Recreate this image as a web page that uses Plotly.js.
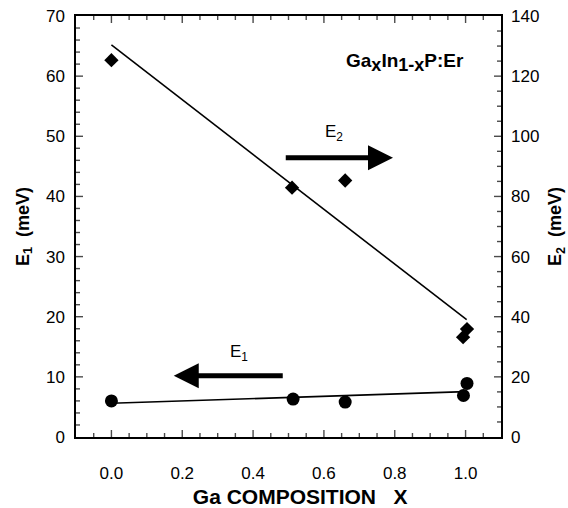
<!DOCTYPE html>
<html><head><meta charset="utf-8">
<script src="https://cdn.plot.ly/plotly-3.0.1.min.js"></script>
<style>html,body{margin:0;padding:0;background:#fff}#chart{width:568px;height:508px}</style>
</head><body><div id="chart"></div>
<script>
// E1 data (left axis, meV)
const e1X = [0.0, 0.513, 0.66, 0.994, 1.004];
const e1Y = [6.0, 6.3, 5.8, 6.9, 8.9];
const e1FitX = [0.0, 1.0];
const e1FitY = [5.6, 7.55];
// E2 data (right axis, meV)
const e2X = [0.0, 0.51, 0.66, 0.993, 1.004];
const e2Y = [125.3, 82.9, 85.3, 33.2, 35.9];
const e2FitX = [0.0, 1.003];
const e2FitY = [130.4, 39.0];
// ticks
const xTicks = [0.0, 0.2, 0.4, 0.6, 0.8, 1.0];
const xTickText = ['0.0', '0.2', '0.4', '0.6', '0.8', '1.0'];
const y1Ticks = [0, 10, 20, 30, 40, 50, 60, 70];
const y2Ticks = [0, 20, 40, 60, 80, 100, 120, 140];

const FONT = 'Liberation Sans, Arial, Helvetica, sans-serif';
const X_RANGE = [-0.1, 1.1], Y1_RANGE = [0, 70], Y2_RANGE = [0, 140];
const W = 568, H = 508, M = {l: 76, r: 67, t: 16, b: 71};
const plotW = W - M.l - M.r, plotH = H - M.t - M.b;

const traces = [
  {x: e1FitX, y: e1FitY, mode: 'lines', line: {color: '#000', width: 1.6}, yaxis: 'y', hoverinfo: 'skip'},
  {x: e1X, y: e1Y, mode: 'markers', marker: {symbol: 'circle', size: 13, color: '#000'}, yaxis: 'y'},
  {x: e2FitX, y: e2FitY, mode: 'lines', line: {color: '#000', width: 1.6}, yaxis: 'y2', hoverinfo: 'skip'},
  {x: e2X, y: e2Y, mode: 'markers', marker: {symbol: 'diamond', size: 11, color: '#000'}, yaxis: 'y2'}
];

// inward tick marks (major + minor) drawn as line-symbol markers on the axes' own scales
const MAJ = 7, MIN = 4;
const xPerPx = (X_RANGE[1] - X_RANGE[0]) / plotW;
const y1PerPx = (Y1_RANGE[1] - Y1_RANGE[0]) / plotH;
const y2PerPx = (Y2_RANGE[1] - Y2_RANGE[0]) / plotH;
function steps(lo, hi, st) { const a = []; const n = Math.round((hi - lo) / st); for (let i = 1; i < n; i++) a.push(+(lo + i * st).toFixed(6)); return a; }
function isMajor(v, arr) { return arr.some(t => Math.abs(t - v) < 1e-6); }
function tickTrace(xs, ys, lens, sym, ax) {
  traces.push({x: xs, y: ys, yaxis: ax, mode: 'markers', cliponaxis: false, hoverinfo: 'skip', showlegend: false,
    marker: {symbol: sym, size: lens.map(l => l / 1.4), color: '#000', line: {color: '#000', width: 1.4}}});
}
const xv = steps(X_RANGE[0], X_RANGE[1], 0.05);
const xl = xv.map(v => isMajor(v, xTicks) ? MAJ : MIN);
tickTrace(xv, xl.map(l => Y1_RANGE[0] + l / 2 * y1PerPx), xl, 'line-ns', 'y');
tickTrace(xv, xl.map(l => Y1_RANGE[1] - l / 2 * y1PerPx), xl, 'line-ns', 'y');
const y1v = steps(Y1_RANGE[0], Y1_RANGE[1], 2);
const y1l = y1v.map(v => isMajor(v, y1Ticks) ? MAJ : MIN);
tickTrace(y1l.map(l => X_RANGE[0] + l / 2 * xPerPx), y1v, y1l, 'line-ew', 'y');
const y2v = steps(Y2_RANGE[0], Y2_RANGE[1], 5);
const y2l = y2v.map(v => isMajor(v, y2Ticks) ? MAJ : MIN);
tickTrace(y2l.map(l => X_RANGE[1] - l / 2 * xPerPx), y2v, y2l, 'line-ew', 'y2');

const layout = {
  width: W, height: H,
  margin: M,
  paper_bgcolor: '#fff', plot_bgcolor: '#fff',
  showlegend: false,
  font: {family: FONT, color: '#000', size: 17},
  xaxis: {
    range: X_RANGE, tickvals: xTicks, ticktext: xTickText, ticks: '',
    showline: true, linecolor: '#000', linewidth: 1.6, mirror: true,
    showgrid: false, zeroline: false,
    ticklabelstandoff: 20,
    tickfont: {size: 17},
    title: {text: '<b>&nbsp;&nbsp;&nbsp;&nbsp;Ga COMPOSITION   X</b>', font: {size: 21}, standoff: 10}
  },
  yaxis: {
    range: Y1_RANGE, tickvals: y1Ticks, ticks: '',
    showline: true, linecolor: '#000', linewidth: 1.6,
    showgrid: false, zeroline: false,
    ticklabelstandoff: 6,
    tickfont: {size: 17},
    title: {text: '<b>E<sub>1</sub>  (meV)</b>', font: {size: 18}, standoff: 12}
  },
  yaxis2: {
    range: Y2_RANGE, tickvals: y2Ticks, overlaying: 'y', side: 'right', ticks: '',
    showline: true, linecolor: '#000', linewidth: 1.6,
    showgrid: false, zeroline: false,
    ticklabelstandoff: 5,
    tickfont: {size: 17},
    title: {text: '<b>E<sub>2</sub>  (meV)</b>', font: {size: 18}, standoff: 10}
  },
  annotations: [
    {x: 0.795, y: 46.45, ax: 0.488, ay: 46.45, xref: 'x', yref: 'y', axref: 'x', ayref: 'y',
     showarrow: true, arrowhead: 2, arrowsize: 1.0, arrowwidth: 5, arrowcolor: '#000', text: ''},
    {x: 0.176, y: 10.17, ax: 0.488, ay: 10.17, xref: 'x', yref: 'y', axref: 'x', ayref: 'y',
     showarrow: true, arrowhead: 2, arrowsize: 1.0, arrowwidth: 5, arrowcolor: '#000', text: ''},
    {x: 0.628, y: 50.6, xref: 'x', yref: 'y', showarrow: false,
     text: 'E<sub>2</sub>', font: {size: 17}},
    {x: 0.36, y: 14.0, xref: 'x', yref: 'y', showarrow: false,
     text: 'E<sub>1</sub>', font: {size: 17}},
    {x: 0.918, y: 0.924, xref: 'paper', yref: 'paper', xanchor: 'right', showarrow: false,
     text: '<b>Ga<sub><span style="font-size:18px">x</span></sub>In<sub><span style="font-size:18px">1-x</span></sub>P:Er</b>',
     font: {size: 19}}
  ]
};

Plotly.newPlot('chart', traces, layout, {staticPlot: true, displayModeBar: false});
</script></body></html>
